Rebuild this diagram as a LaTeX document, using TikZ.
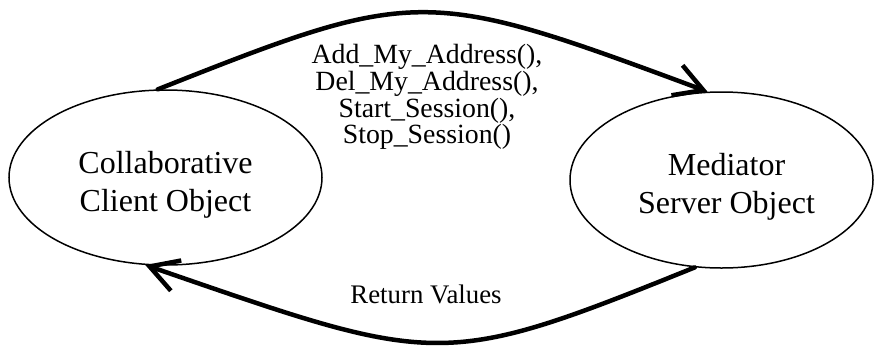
\documentclass[tikz,border=0pt]{standalone}
\usepackage{fontspec}
\setmainfont{Liberation Serif}
\usetikzlibrary{arrows.meta,shapes.geometric}

\tikzset{
  object/.style={ellipse, draw, line width=1.5pt, inner sep=0pt, align=center,
                 font=\rmfamily\fontsize{32}{38}\selectfont},
  call/.style={line width=4.5pt, line cap=round, line join=round,
               -{Straight Barb[length=28pt,width=32pt,line width=4.5pt]}},
  msg/.style={align=center, inner sep=0pt, font=\rmfamily\fontsize{26.8}{26.7}\selectfont},
}

\begin{document}
\begin{tikzpicture}[x=1pt,y=-1pt]
  \useasboundingbox (0,0) rectangle (874,351);

  % the two objects
  \node[object, minimum width=313pt, minimum height=175pt] (client) at (165.5,177.5)
    {\rule{0pt}{37pt}Collaborative\\Client Object};
  \node[object, minimum width=303pt, minimum height=176pt] (server) at (721.5,180)
    {\rule{0pt}{36pt}\hspace*{10pt}Mediator\\\hspace*{10pt}Server Object};

  % method calls from client to server
  \draw[call] (client.95) .. controls +(260,-103) and +(-283,-105) .. (server.99);
  % return values from server to client
  \draw[call] (server.253) .. controls +(-255,103) and +(293,101) .. (client.257);

  % message labels
  \node[msg, font=\rmfamily\fontsize{27.8}{26.7}\selectfont] (calls) at (427,97)
    {Add\_My\_Address(),\\Del\_My\_Address(),\\Start\_Session(),\\Stop\_Session()};
  \node[msg, anchor=base] (returns) at (426,303) {Return Values};
\end{tikzpicture}
\end{document}
